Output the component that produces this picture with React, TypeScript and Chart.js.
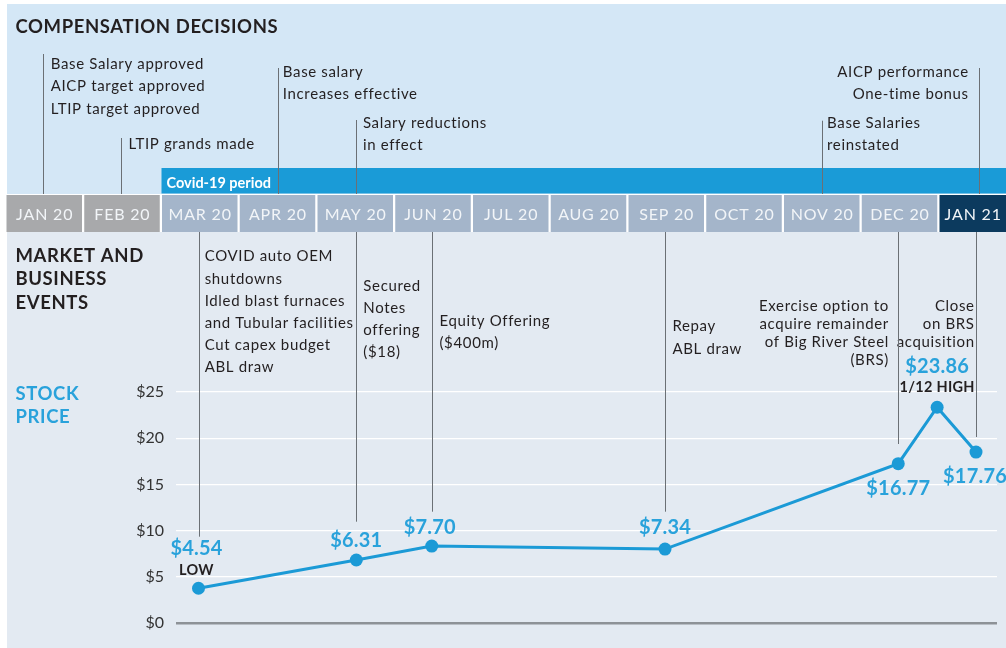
import React, { useEffect, useRef } from "react";
import { Chart, registerables } from "chart.js";

Chart.register(...registerables);

// ---------- DATA ----------
const months = ["JAN 20", "FEB 20", "MAR 20", "APR 20", "MAY 20", "JUN 20", "JUL 20", "AUG 20", "SEP 20", "OCT 20", "NOV 20", "DEC 20", "JAN 21"];
const monthTone = ["gray", "gray", "blue", "blue", "blue", "blue", "blue", "blue", "blue", "blue", "blue", "blue", "navy"];
const covidStartMonth = 2;
const covidLabel = "Covid-19 period";

const priceX = [2, 4.03, 5, 8, 11, 11.5, 12];
const priceY = [3.76, 6.82, 8.33, 8.0, 17.24, 23.35, 18.5];
const priceLabels = ["$4.54", "$6.31", "$7.70", "$7.34", "$16.77", "$23.86", "$17.76"];
const priceNotes = ["LOW", "", "", "", "", "1/12 HIGH", ""];

const yTicks = [0, 5, 10, 15, 20, 25];
const yTickLabels = ["$0", "$5", "$10", "$15", "$20", "$25"];

const compX = [0, 1, 3.02, 4.03, 10.02, 12.04];
const compText = [
  ["Base Salary approved", "AICP target approved", "LTIP target approved"],
  ["LTIP grands made"],
  ["Base salary", "Increases effective"],
  ["Salary reductions", "in effect"],
  ["Base Salaries", "reinstated"],
  ["AICP performance", "One-time bonus"],
];

const marketX = [2, 4.03, 5, 8, 11, 12];
const marketText = [
  ["COVID auto OEM", "shutdowns", "Idled blast furnaces", "and Tubular facilities", "Cut capex budget", "ABL draw"],
  ["Secured", "Notes", "offering", "($18)"],
  ["Equity Offering", "($400m)"],
  ["Repay", "ABL draw"],
  ["Exercise option to", "acquire remainder", "of Big River Steel", "(BRS)"],
  ["Close", "on BRS", "acquisition"],
];

const titleComp = "COMPENSATION DECISIONS";
const titleMarket = ["MARKET AND", "BUSINESS", "EVENTS"];
const titleStock = ["STOCK", "PRICE"];

// ---------- LAYOUT / STYLE ----------
const W = 1006;
const H = 648;
const X0 = 43; // pixel of month 0
const XS = 77.75; // pixels per month
const PLOT_L = 176;
const PLOT_R = 997;
const PLOT_T = 392;
const PLOT_B = 623;

const FONT = "Lato, 'Open Sans', sans-serif";
const C = {
  topBg: "#D4E7F6",
  lowBg: "#E3EAF2",
  covid: "#1A9BD7",
  gray: "#A8A9AB",
  blue: "#A4B5CA",
  navy: "#0C3A5E",
  monthText: "#F2F5F8",
  text: "#231F20",
  accent: "#29A2DB",
  vline: "#6B7075",
  grid: "#FFFFFF",
  zero: "#8D9297",
  line: "#1B9AD6",
};

// comp annotation layout: line top, text dx, first baseline, align
const compLayout = [
  { top: 54, dx: 7.7, base: 69, align: "left" },
  { top: 138, dx: 7.7, base: 149, align: "left" },
  { top: 68, dx: 5, base: 77, align: "left" },
  { top: 120, dx: 6.6, base: 128, align: "left" },
  { top: 120.7, dx: 5, base: 128, align: "left" },
  { top: 68, dx: -11, base: 77, align: "right" },
];
const compLH = 22.3;

const marketLayout = [
  { bottom: 536.7, dx: 6.2, base: 261.3, lh: 22.2, align: "left" },
  { bottom: 521.7, dx: 7, base: 290.5, lh: 22, align: "left" },
  { bottom: 511.7, dx: 7.7, base: 325.5, lh: 22, align: "left" },
  { bottom: 511.7, dx: 7.4, base: 331, lh: 22.5, align: "left" },
  { bottom: 444, dx: -10, base: 311, lh: 18, align: "right" },
  { bottom: 437, dx: -2, base: 311, lh: 18, align: "right" },
];

const labelDy = [-33, -13.3, -12, -15, 31.3, -34, 31.3];
const labelDx = [-2, 0, -2, 0, 0, 0, -1];
const noteDy = [-13.3, 0, 0, 0, 0, -15, 0];

function setSpacing(ctx: any, s: string) {
  try {
    ctx.letterSpacing = s;
  } catch (e) {
    /* ignore */
  }
}

function drawLines(ctx: CanvasRenderingContext2D, lines: string[], x: number, y: number, lh: number, align: CanvasTextAlign) {
  ctx.textAlign = align;
  lines.forEach((t, i) => ctx.fillText(t, x, y + i * lh));
}

const infographic = {
  id: "infographic",
  beforeDraw(chart: any) {
    const ctx: CanvasRenderingContext2D = chart.ctx;
    const xs = chart.scales.x;
    const px = (v: number) => xs.getPixelForValue(v);
    ctx.save();
    ctx.fillStyle = "#FFFFFF";
    ctx.fillRect(0, 0, W, H);
    ctx.fillStyle = C.topBg;
    ctx.fillRect(7, 4, W - 7, 190);
    ctx.fillStyle = C.lowBg;
    ctx.fillRect(7, 232, W - 7, H - 232);

    // covid bar
    const cx = px(covidStartMonth) - 37;
    ctx.fillStyle = C.covid;
    ctx.fillRect(cx, 168, W - cx, 25.5);
    ctx.fillStyle = "#FFFFFF";
    ctx.font = `bold 14.5px ${FONT}`;
    setSpacing(ctx, "0px");
    ctx.textAlign = "left";
    ctx.textBaseline = "alphabetic";
    ctx.fillText(covidLabel, cx + 5, 187.5);

    // month cells
    setSpacing(ctx, "0.8px");
    months.forEach((m, i) => {
      const l = px(i) - 36.5;
      const r = i === months.length - 1 ? W : px(i) + 39;
      const tone = monthTone[i];
      ctx.fillStyle = tone === "gray" ? C.gray : tone === "navy" ? C.navy : C.blue;
      ctx.fillRect(l, 195, r - l, 37);
      ctx.fillStyle = C.monthText;
      ctx.font = `16px ${FONT}`;
      ctx.textAlign = "center";
      ctx.fillText(m, (l + Math.min(r, px(i) + 39)) / 2 + 0.4, 220);
    });

    // compensation lines
    ctx.strokeStyle = C.vline;
    ctx.lineWidth = 1;
    compX.forEach((v, i) => {
      const x = Math.round(px(v)) + 0.5;
      ctx.beginPath();
      ctx.moveTo(x, compLayout[i].top);
      ctx.lineTo(x, 194);
      ctx.stroke();
    });

    // headings
    ctx.fillStyle = C.text;
    ctx.font = `bold 18.5px ${FONT}`;
    setSpacing(ctx, "0.6px");
    ctx.textAlign = "left";
    ctx.fillText(titleComp, 15.5, 33.3);
    drawLines(ctx, titleMarket, 15.5, 261.5, 23.5, "left");
    ctx.fillStyle = C.accent;
    drawLines(ctx, titleStock, 15.5, 400, 23.3, "left");

    // compensation texts
    ctx.fillStyle = C.text;
    ctx.font = `15px ${FONT}`;
    setSpacing(ctx, "0.65px");
    compText.forEach((lines, i) => {
      const L = compLayout[i];
      const adj = L.align === "right" ? 0.65 : 0;
      drawLines(ctx, lines, px(compX[i]) + L.dx + adj, L.base, compLH, L.align as CanvasTextAlign);
    });

    // market texts
    marketText.forEach((lines, i) => {
      const L = marketLayout[i];
      const adj = L.align === "right" ? 0.65 : 0;
      drawLines(ctx, lines, px(marketX[i]) + L.dx + adj, L.base, L.lh, L.align as CanvasTextAlign);
    });
    ctx.restore();
  },
  beforeDatasetsDraw(chart: any) {
    const ctx: CanvasRenderingContext2D = chart.ctx;
    const xs = chart.scales.x;
    ctx.save();
    ctx.strokeStyle = C.vline;
    ctx.lineWidth = 1;
    marketX.forEach((v, i) => {
      const x = Math.round(xs.getPixelForValue(v)) + 0.5;
      ctx.beginPath();
      ctx.moveTo(x, 232);
      ctx.lineTo(x, marketLayout[i].bottom);
      ctx.stroke();
    });
    ctx.restore();
  },
  afterDatasetsDraw(chart: any) {
    const ctx: CanvasRenderingContext2D = chart.ctx;
    const meta = chart.getDatasetMeta(0);
    ctx.save();
    ctx.textAlign = "center";
    ctx.textBaseline = "alphabetic";
    meta.data.forEach((pt: any, i: number) => {
      ctx.fillStyle = C.accent;
      ctx.font = `bold 20px ${FONT}`;
      setSpacing(ctx, "0.2px");
      ctx.fillText(priceLabels[i], pt.x + labelDx[i], pt.y + labelDy[i]);
      if (priceNotes[i]) {
        ctx.fillStyle = C.text;
        ctx.font = `bold 14.5px ${FONT}`;
        setSpacing(ctx, "0.3px");
        ctx.fillText(priceNotes[i], pt.x + labelDx[i], pt.y + noteDy[i]);
      }
    });
    ctx.restore();
  },
};

export default function App() {
  const ref = useRef<HTMLCanvasElement | null>(null);
  useEffect(() => {
    document.body.style.margin = "0";
    if (!ref.current) return;
    const chart = new Chart(ref.current, {
      type: "line",
      data: {
        datasets: [
          {
            data: priceX.map((x, i) => ({ x, y: priceY[i] })),
            borderColor: C.line,
            borderWidth: 3,
            pointRadius: 6.5,
            pointBackgroundColor: C.line,
            pointBorderWidth: 0,
            tension: 0,
            clip: false as any,
          },
        ],
      },
      options: {
        animation: false,
        responsive: false,
        devicePixelRatio: 1,
        events: [],
        layout: { padding: { left: 0, right: W - PLOT_R, top: PLOT_T, bottom: H - PLOT_B }, autoPadding: false } as any,
        plugins: { legend: { display: false }, tooltip: { enabled: false } },
        scales: {
          x: {
            type: "linear",
            min: (PLOT_L - X0) / XS,
            max: (PLOT_R - X0) / XS,
            display: false,
          },
          y: {
            min: 0,
            max: 25,
            afterFit: (s: any) => {
              s.width = PLOT_L;
            },
            border: { display: false },
            grid: {
              drawTicks: false,
              color: (c: any) => (c.tick && c.tick.value === 0 ? C.zero : C.grid),
              lineWidth: (c: any) => (c.tick && c.tick.value === 0 ? 2.5 : 1.3),
            },
            ticks: {
              stepSize: 5,
              padding: 12,
              color: "#333333",
              font: { family: FONT, size: 16 },
              callback: (v: any) => {
                const k = yTicks.indexOf(Number(v));
                return k >= 0 ? yTickLabels[k] : "";
              },
            },
          },
        },
      },
      plugins: [infographic],
    });
    return () => chart.destroy();
  }, []);
  return <canvas ref={ref} width={W} height={H} style={{ display: "block" }} />;
}
